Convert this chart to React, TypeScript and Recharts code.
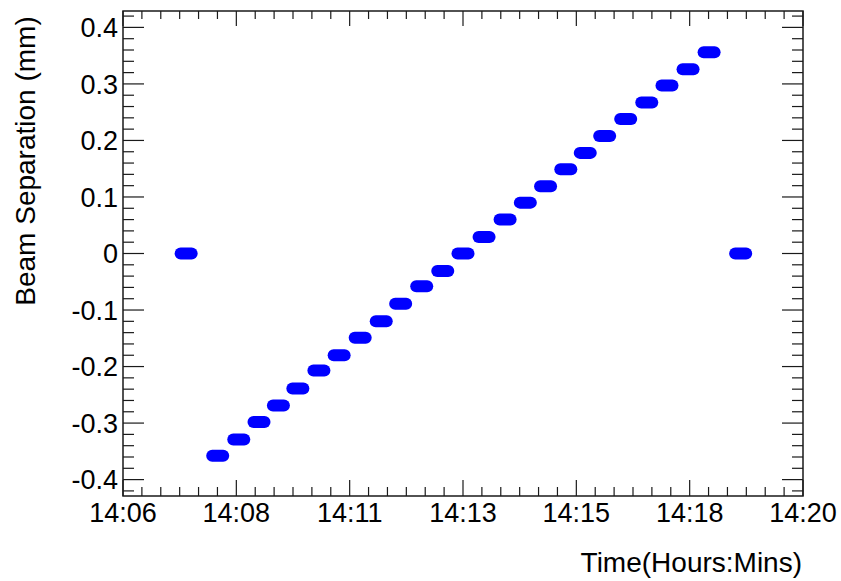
import { ScatterChart, Scatter, XAxis, YAxis, ReferenceArea, Label } from "recharts"

// clock time of each scan step and its beam separation in mm
const stepTimes = [
  "14:07:18", "14:07:57", "14:08:23", "14:08:48", "14:09:12", "14:09:36", "14:10:02",
  "14:10:27", "14:10:53", "14:11:19", "14:11:43", "14:12:09", "14:12:35", "14:13:00",
  "14:13:26", "14:13:52", "14:14:17", "14:14:42", "14:15:07", "14:15:31", "14:15:55",
  "14:16:21", "14:16:47", "14:17:12", "14:17:38", "14:18:04", "14:18:43",
]
const separations = [
  0, -0.358, -0.329, -0.298, -0.269, -0.239, -0.207,
  -0.18, -0.149, -0.12, -0.089, -0.058, -0.031, 0,
  0.029, 0.06, 0.09, 0.119, 0.149, 0.178, 0.208,
  0.238, 0.267, 0.297, 0.326, 0.356, 0,
]

const xStart = "14:06:00"
const xEnd = "14:20:00"
const xTickLabels = ["14:06", "14:08", "14:11", "14:13", "14:15", "14:18", "14:20"]
const yTicks = [-0.4, -0.3, -0.2, -0.1, 0, 0.1, 0.2, 0.3, 0.4]
const yTickLabels = ["-0.4", "-0.3", "-0.2", "-0.1", "0", "0.1", "0.2", "0.3", "0.4"]
const yDomain = [-0.429, 0.429]

const toSec = (t: string) => {
  const [h, m, s] = t.split(":").map(Number)
  return h * 3600 + m * 60 + s
}

const data = stepTimes.map((t, i) => ({ t: toSec(t), sep: separations[i] }))

const x0 = toSec(xStart)
const x1 = toSec(xEnd)
const xMajorStep = (x1 - x0) / (xTickLabels.length - 1)
const xMinor: number[] = []
for (let i = 0; i <= (xTickLabels.length - 1) * 6; i++) xMinor.push(x0 + (i * xMajorStep) / 6)
const yMinor: number[] = []
for (let i = -21; i <= 21; i++) yMinor.push(Math.round(i * 2) / 100)

const FONT = "'Liberation Sans', Arial, Helvetica, sans-serif"
const PLOT_TOP = 11
const PLOT_RIGHT = 803
const INK = "#1a1a1a"

function XTick(props: any) {
  const { x, y, payload } = props
  const idx = xMinor.indexOf(payload.value)
  const major = idx % 6 === 0
  const len = major ? 16 : 9
  return (
    <g>
      <line x1={x} y1={y} x2={x} y2={y - len} stroke={INK} strokeWidth={1.2} />
      <line x1={x} y1={PLOT_TOP} x2={x} y2={PLOT_TOP + (major ? 15 : 8)} stroke={INK} strokeWidth={1.2} />
      {major && (
        <text x={x} y={y + 26} textAnchor="middle" fontSize={27} fontFamily={FONT} fill="#000">
          {xTickLabels[idx / 6]}
        </text>
      )}
    </g>
  )
}

function YTick(props: any) {
  const { x, y, payload } = props
  const mi = yTicks.findIndex((v) => Math.abs(v - payload.value) < 1e-6)
  const len = mi >= 0 ? 21 : 11
  return (
    <g>
      <line x1={x} y1={y} x2={x + len} y2={y} stroke={INK} strokeWidth={1.2} />
      <line x1={PLOT_RIGHT} y1={y} x2={PLOT_RIGHT - len} y2={y} stroke={INK} strokeWidth={1.2} />
      {mi >= 0 && (
        <text x={x - 5} y={y} dy="0.36em" textAnchor="end" fontSize={27} fontFamily={FONT} fill="#000">
          {yTickLabels[mi]}
        </text>
      )}
    </g>
  )
}

const Blob = (props: any) => {
  const { cx, cy } = props
  return <rect x={cx - 11.5} y={cy - 6} width={23} height={12} rx={6} ry={6} fill="#0000ff" />
}

export default function App() {
  return (
    <div style={{ position: "absolute", left: 0, top: 0, width: 841, height: 581, background: "#fff" }}>
      <ScatterChart width={841} height={581} margin={{ top: PLOT_TOP, right: 38, bottom: 0, left: 0 }}>
        <XAxis
          type="number"
          dataKey="t"
          domain={[x0, x1]}
          ticks={xMinor}
          interval={0}
          allowDataOverflow
          height={85}
          tickSize={0}
          tickMargin={0}
          axisLine={false}
          tickLine={false}
          tick={<XTick />}
        >
          <Label
            content={(p: any) => {
              const vb = p.viewBox
              return (
                <text x={vb.x + vb.width - 1} y={vb.y + 76} textAnchor="end" fontSize={28} fontFamily={FONT} fill="#000">
                  Time(Hours:Mins)
                </text>
              )
            }}
          />
        </XAxis>
        <YAxis
          type="number"
          dataKey="sep"
          domain={yDomain}
          ticks={yMinor}
          interval={0}
          allowDataOverflow
          width={123}
          tickSize={0}
          tickMargin={0}
          axisLine={false}
          tickLine={false}
          tick={<YTick />}
        >
          <Label
            content={(p: any) => {
              const vb = p.viewBox
              const cy = vb.y + 150
              return (
                <text
                  x={35}
                  y={cy}
                  textAnchor="middle"
                  transform={`rotate(-90 35 ${cy})`}
                  fontSize={28}
                  fontFamily={FONT}
                  fill="#000"
                >
                  Beam Separation (mm)
                </text>
              )
            }}
          />
        </YAxis>
        <ReferenceArea x1={x0} x2={x1} y1={yDomain[0]} y2={yDomain[1]} fill="none" stroke={INK} strokeWidth={1.5} />
        <Scatter data={data} shape={<Blob />} isAnimationActive={false} />
      </ScatterChart>
    </div>
  )
}
